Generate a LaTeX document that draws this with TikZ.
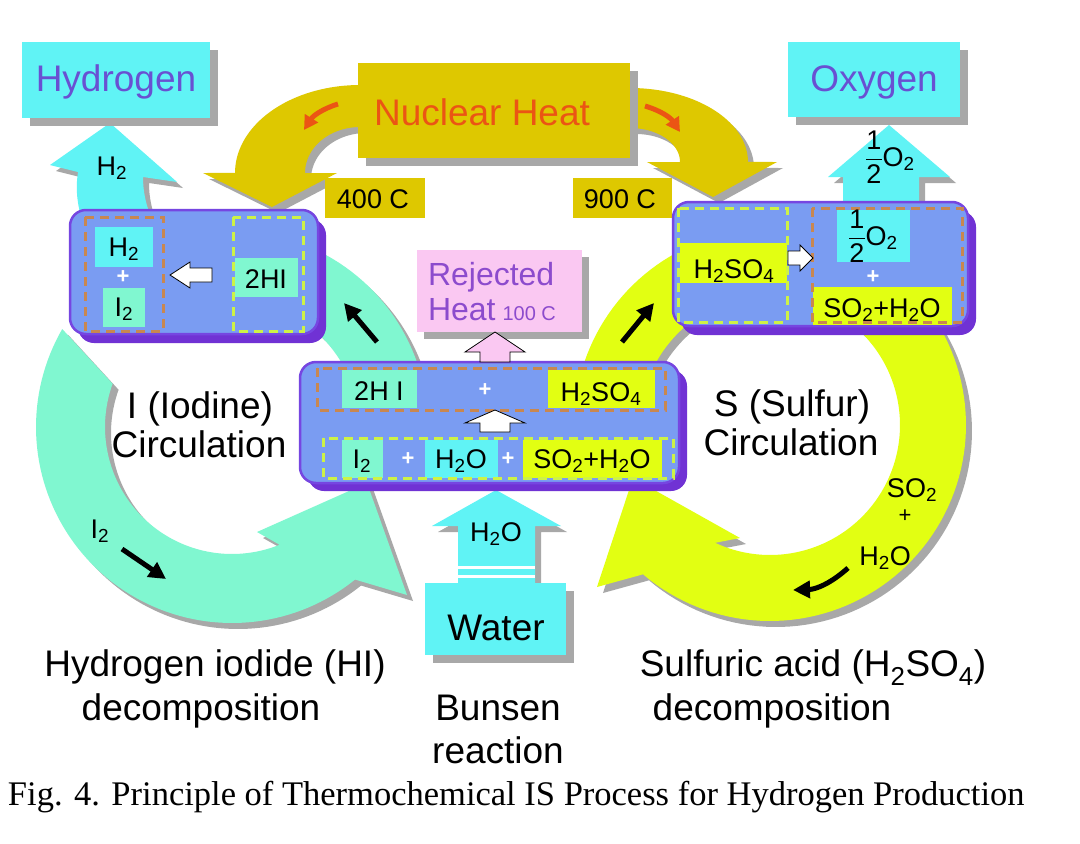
\documentclass[tikz,border=0pt]{standalone}
\usepackage{fontspec}
\usepackage{amsmath}
\setmainfont{Liberation Sans}
\newfontfamily\capfont{Liberation Serif}
\usetikzlibrary{arrows.meta}
\definecolor{cyanA}{RGB}{96,243,245}
\definecolor{aqua}{RGB}{128,247,208}
\definecolor{yel}{RGB}{226,255,18}
\definecolor{gold}{RGB}{222,200,0}
\definecolor{rblue}{RGB}{122,156,242}
\definecolor{rpurple}{RGB}{118,70,225}
\definecolor{rshadow}{RGB}{112,50,212}
\definecolor{pinkA}{RGB}{250,200,242}
\definecolor{orangeA}{RGB}{235,85,20}
\definecolor{shadowgray}{RGB}{168,168,168}
\definecolor{brownD}{RGB}{200,135,80}
\definecolor{greenD}{RGB}{205,242,70}
\definecolor{purpleT}{RGB}{105,80,210}
\definecolor{purpleR}{RGB}{140,75,205}
\newcommand{\ssub}[1]{\textsubscript{#1}}
\newcommand{\setfs}[1]{\fontsize{#1}{#1}\selectfont}
\newcommand{\halfO}{$\dfrac{\text{1}}{\text{2}}$O\ssub{2}}
\newcommand{\pathLRA}{plot[domain=0:1,samples=80] ({232+196*cos(210-159*\x)},{427+196*sin(210-159*\x)}) -- (407,595) -- (367,483) -- (257,532) -- plot[domain=0:1,samples=80] ({232+127*cos(68+132*\x)},{427+127*sin(68+132*\x)}) -- cycle}
\newcommand{\pathLRB}{plot[domain=0:1,samples=30] ({232+196*cos(-75+65*\x)},{427+196*sin(-75+65*\x)}) -- plot[domain=0:1,samples=30] ({232+127*cos(-10-65*\x)},{427+127*sin(-10-65*\x)}) -- cycle}
\newcommand{\pathRRA}{plot[domain=0:1,samples=80] ({770+196*cos(-55+185.5*\x)},{425+196*sin(-55+185.5*\x)}) -- (597,587) -- (633,478) -- (740,538) -- plot[domain=0:1,samples=80] ({770+130*cos(115-170*\x)},{425+130*sin(115-170*\x)}) -- cycle}
\newcommand{\pathRRB}{plot[domain=0:1,samples=30] ({770+196*cos(190+65*\x)},{425+196*sin(190+65*\x)}) -- plot[domain=0:1,samples=30] ({770+130*cos(255-65*\x)},{425+130*sin(255-65*\x)}) -- cycle}
\newcommand{\pathGL}{(390,85) -- plot[domain=0:1,samples=40] ({360+125*cos(270-90*\x)},{173+88*sin(270-90*\x)}) -- (203,173) -- (272,207) -- (337,173) -- plot[domain=0:1,samples=40] ({360+55*cos(180+90*\x)},{173+46*sin(180+90*\x)}) -- (390,127) -- cycle}
\newcommand{\pathGR}{(600,88) -- plot[domain=0:1,samples=40] ({630+118*cos(270+90*\x)},{162+74*sin(270+90*\x)}) -- (777,162) -- (713,197) -- (647,162) -- plot[domain=0:1,samples=40] ({630+50*cos(360-90*\x)},{162+34*sin(360-90*\x)}) -- (600,128) -- cycle}
\newcommand{\pathHA}{(82,220) .. controls (76,200) and (76,185) .. (78,172) -- (50,165) -- (110,123) -- (177,182) -- (143,177) .. controls (143,192) and (146,205) .. (152,220) -- cycle}
\newcommand{\pathOA}{(843,208) -- (843,177) -- (828,177) -- (889,125) -- (950,177) -- (919,177) -- (919,208) -- cycle}
\newcommand{\pathWA}{(458,585) -- (458,526) -- (432,526) -- (496,490) -- (561,526) -- (535,526) -- (535,585) -- cycle}
\begin{document}
\begin{tikzpicture}[x=1pt,y=-1pt,
  shd/.style={fill=shadowgray, shift={(6,6)}},
  rbox/.style={fill=rblue, draw=rpurple, line width=2.5pt, rounded corners=16pt},
  rshd/.style={fill=rshadow, rounded corners=16pt},
  bdash/.style={draw=brownD, line width=3pt, dash pattern=on 9pt off 6pt},
  gdash/.style={draw=greenD, line width=3pt, dash pattern=on 9pt off 6pt},
  warrow/.style={fill=white, draw=black, line width=0.8pt},
  txt/.style={anchor=base, inner sep=0pt, outer sep=0pt},
  big/.style={txt, font=\setfs{37}},
  chem/.style={txt, font=\setfs{27}},
  plus/.style={anchor=center, inner sep=0pt, text=white, font=\setfs{22}\bfseries},
  blk/.style={line width=5pt, -{Triangle[length=17pt,width=17pt]}},
  orarrow/.style={draw=orangeA, line width=5pt, -{Triangle[length=14pt,width=15pt]}}]
\useasboundingbox (0,0) rectangle (1080,844);
\fill[white] (0,0) rectangle (1080,844);
% circulation rings
\fill[shd] \pathLRA;
\fill[shd] \pathLRB;
\fill[shd] \pathRRA;
\fill[shd] \pathRRB;
\fill[aqua] \pathLRA;
\fill[aqua] \pathLRB;
\fill[yel] \pathRRA;
\fill[yel] \pathRRB;
% nuclear heat arrows
\fill[shd] \pathGL;
\fill[shd] \pathGR;
\fill[gold] \pathGL;
\fill[gold] \pathGR;
% product arrows
\fill[shd] \pathHA;
\fill[cyanA] \pathHA;
\fill[shd] \pathOA;
\fill[cyanA] \pathOA;
\fill[shd] \pathWA;
\fill[cyanA] \pathWA;
\fill[white] (458,566) rectangle (535,569);
\fill[white] (458,575) rectangle (535,578);
% label boxes
\fill[shadowgray] (30,50) rectangle (218,126);
\fill[cyanA] (22,42) rectangle (210,118);
\fill[shadowgray] (796,50) rectangle (968,125);
\fill[cyanA] (788,42) rectangle (960,117);
\fill[shadowgray] (366,71) rectangle (638,166);
\fill[gold] (358,63) rectangle (630,158);
\fill[gold] (325,178) rectangle (425,218);
\fill[gold] (573,178) rectangle (672,218);
\fill[shadowgray] (424,257) rectangle (589,339);
\fill[pinkA] (417,250) rectangle (582,332);
\fill[shadowgray] (433,591) rectangle (574,663);
\fill[cyanA] (425,583) rectangle (566,655);
% left reaction box
\fill[rshd] (78,219) rectangle (326,343);
\draw[rbox] (70,210) rectangle (318,334);
\fill[cyanA] (95,227) rectangle (153,267);
\fill[aqua] (103,288) rectangle (145,327);
\fill[aqua] (235,258) rectangle (298,297);
\draw[bdash] (85,217) rectangle (163,331);
\draw[gdash] (233,217) rectangle (303,331);
\draw[warrow] (170,275) -- (190,262) -- (190,268) -- (212,268) -- (212,282) -- (190,282) -- (190,288) -- cycle;
% right reaction box
\fill[rshd] (681,211) rectangle (976,335);
\draw[rbox] (673,202) rectangle (968,326);
\fill[yel] (680,243) rectangle (787,283);
\fill[cyanA] (837,210) rectangle (910,262);
\fill[yel] (813,287) rectangle (952,325);
\draw[gdash] (678,208) rectangle (787,322);
\draw[bdash] (812,208) rectangle (962,322);
\draw[warrow] (813,258) -- (800,245) -- (800,251) -- (788,251) -- (788,265) -- (800,265) -- (800,271) -- cycle;
% center reaction box
\fill[rshd] (308,370) rectangle (687,491);
\draw[rbox] (300,362) rectangle (679,483);
\fill[aqua] (342,370) rectangle (417,408);
\fill[yel] (548,370) rectangle (655,408);
\fill[aqua] (342,440) rectangle (383,478);
\fill[cyanA] (425,440) rectangle (498,478);
\fill[yel] (523,440) rectangle (662,478);
\draw[bdash] (317,368) rectangle (665,410);
\draw[gdash] (323,438) rectangle (673,478);
\draw[warrow] (495,410) -- (525,423) -- (510,423) -- (510,432) -- (480,432) -- (480,423) -- (465,423) -- cycle;
\draw[warrow, fill=pinkA] (495,332) -- (525,352) -- (510,352) -- (510,362) -- (480,362) -- (480,352) -- (465,352) -- cycle;
% orange arrows
\coordinate (oa1) at (338,104); \coordinate (oa2) at (304,130);
\coordinate (ob1) at (645,106); \coordinate (ob2) at (680,132);
\draw[orarrow] (oa1) to[bend right=20] (oa2);
\draw[orarrow] (ob1) to[bend left=20] (ob2);
% black flow arrows
\coordinate (ba1) at (377,342); \coordinate (ba2) at (344,303);
\coordinate (bb1) at (622,342); \coordinate (bb2) at (654,303);
\coordinate (bc1) at (122,549); \coordinate (bc2) at (166,579);
\coordinate (bd1) at (848,568); \coordinate (bd2) at (793,590);
\draw[blk] (ba1) -- (ba2);
\draw[blk] (bb1) -- (bb2);
\draw[blk] (bc1) -- (bc2);
\draw[blk] (bd1) to[bend left=20] (bd2);
% texts
\node[big, text=purpleT] (hyd) at (116,91) {Hydrogen};
\node[big, text=purpleT] (oxy) at (874,91) {Oxygen};
\node[big, text=orangeA] (nh) at (482,125) {Nuclear Heat};
\node[chem] (t400) at (373,208) {400 C};
\node[chem] (t900) at (620,208) {900 C};
\node[txt, anchor=base west, text=purpleR, font=\setfs{32}] (rej1) at (428,285) {Rejected};
\node[txt, anchor=base west, text=purpleR, font=\setfs{32}] (rej2) at (428,320) {Heat\hspace{7pt}{\setfs{20}100 C}};
\node[big] (water) at (496,640) {Water};
\node[big] (ic1) at (200,418) {I (Iodine)};
\node[big] (ic2) at (199,457) {Circulation};
\node[big] (sc1) at (792,416) {S (Sulfur)};
\node[big] (sc2) at (791,455) {Circulation};
\node[big] (hid1) at (215,676) {Hydrogen iodide (HI)};
\node[big] (hid2) at (201,720) {decomposition};
\node[big] (bun1) at (498,720) {Bunsen};
\node[big] (bun2) at (498,763) {reaction};
\node[big] (sad1) at (813,676) {Sulfuric acid (H\ssub{2}SO\ssub{4})};
\node[big] (sad2) at (772,720) {decomposition};
\node[txt, anchor=base west, font=\capfont\setfs{34.5}] (cap) at (8,805) {Fig. 4. Principle of Thermochemical IS Process for Hydrogen Production};
% chemical labels
\node[chem] (lh2) at (124,256) {H\ssub{2}};
\node[chem] (li2) at (124,316) {I\ssub{2}};
\node[chem] (l2hi) at (266,288) {2HI};
\node[plus] (lp) at (123,277) {+};
\node[chem] (rh2so4) at (734,278) {H\ssub{2}SO\ssub{4}};
\node[anchor=center, inner sep=0pt, font=\setfs{27}] (rhalf) at (873,236) {\halfO};
\node[plus] (rp) at (873,277) {+};
\node[chem] (rso2) at (882,317) {SO\ssub{2}+H\ssub{2}O};
\node[chem] (c2hi) at (379,400) {2H I};
\node[plus] (cp1) at (485,390) {+};
\node[chem] (ch2so4) at (601,401) {H\ssub{2}SO\ssub{4}};
\node[chem] (ci2) at (362,468) {I\ssub{2}};
\node[plus] (cp2) at (408,459) {+};
\node[chem] (ch2o) at (461,468) {H\ssub{2}O};
\node[plus] (cp3) at (508,459) {+};
\node[chem] (cso2) at (592,468) {SO\ssub{2}+H\ssub{2}O};
% arrow labels
\node[chem] (ah2) at (112,175) {H\ssub{2}};
\node[anchor=center, inner sep=0pt, font=\setfs{27}] (ao2) at (890,157) {\halfO};
\node[chem] (ah2o) at (496,541) {H\ssub{2}O};
\node[chem] (ai2) at (100,538) {I\ssub{2}};
\node[chem] (aso2) at (912,497) {SO\ssub{2}};
\node[anchor=center, inner sep=0pt, font=\setfs{22}] (aplus) at (905,516) {+};
\node[chem] (ah2ob) at (885,565) {H\ssub{2}O};
\end{tikzpicture}
\end{document}
